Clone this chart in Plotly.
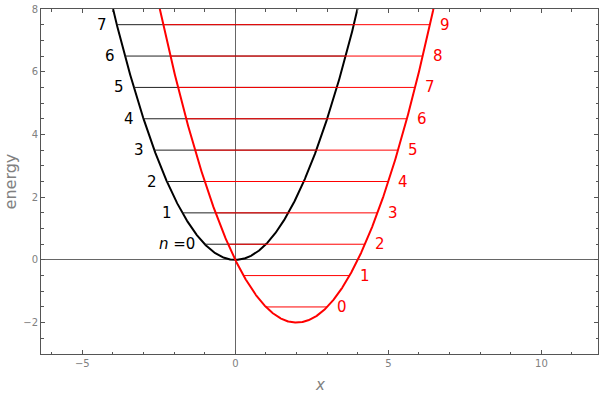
import numpy as np
import plotly.graph_objects as go

# potential parameters (harmonic oscillator, shifted well)
black_x0, black_v0 = 0.0, 0.0
red_x0, red_v0 = 2.0, -2.0

# energy levels
black_levels = [0.5, 1.5, 2.5, 3.5, 4.5, 5.5, 6.5, 7.5]
black_labels = ["<i>n</i> =0", "1", "2", "3", "4", "5", "6", "7"]
red_levels = [-1.5, -0.5, 0.5, 1.5, 2.5, 3.5, 4.5, 5.5, 6.5, 7.5]
red_labels = ["0", "1", "2", "3", "4", "5", "6", "7", "8", "9"]

x_range = [-6.35, 11.85]
y_range = [-3, 8]

xs = np.linspace(x_range[0], x_range[1], 1500)


def V(x, x0, v0):
    return 0.5 * (x - x0) ** 2 + v0


def turning(E, x0, v0):
    d = np.sqrt(2 * (E - v0))
    return x0 - d, x0 + d


def level_segments(levels, x0, v0):
    lx, ly = [], []
    for E in levels:
        a, b = turning(E, x0, v0)
        lx += [a, b, None]
        ly += [E, E, None]
    return lx, ly


fig = go.Figure()

bx, by = level_segments(black_levels, black_x0, black_v0)
rx, ry = level_segments(red_levels, red_x0, red_v0)

fig.add_trace(go.Scatter(x=xs, y=V(xs, black_x0, black_v0), mode="lines",
                         line=dict(color="black", width=2), hoverinfo="skip"))
fig.add_trace(go.Scatter(x=bx, y=by, mode="lines",
                         line=dict(color="#222222", width=1), hoverinfo="skip"))
fig.add_trace(go.Scatter(x=xs, y=V(xs, red_x0, red_v0), mode="lines",
                         line=dict(color="#ff0000", width=2), hoverinfo="skip"))
fig.add_trace(go.Scatter(x=rx, y=ry, mode="lines",
                         line=dict(color="#ff0000", width=1), hoverinfo="skip"))

annotations = []
for E, lab in zip(black_levels, black_labels):
    a, b = turning(E, black_x0, black_v0)
    annotations.append(dict(x=a, y=E, text=lab, showarrow=False, xanchor="right",
                            yanchor="middle", xshift=-8,
                            font=dict(family="DejaVu Sans", size=15, color="black")))
for E, lab in zip(red_levels, red_labels):
    a, b = turning(E, red_x0, red_v0)
    annotations.append(dict(x=b, y=E, text=lab, showarrow=False, xanchor="left",
                            yanchor="middle", xshift=8,
                            font=dict(family="DejaVu Sans", size=15, color="#ff0000")))

# axis titles
annotations.append(dict(xref="paper", yref="paper", x=0.5, y=-0.09, text="<i>x</i>",
                        showarrow=False, xanchor="center", yanchor="middle",
                        font=dict(family="DejaVu Sans", size=15, color="#808080")))
annotations.append(dict(xref="paper", yref="paper", x=-0.054, y=0.5, text="energy",
                        showarrow=False, xanchor="center", yanchor="middle", textangle=-90,
                        font=dict(family="DejaVu Sans", size=16, color="#808080")))

axis_common = dict(
    showgrid=False, automargin=False,
    showline=True, linecolor="#555555", linewidth=1, mirror="ticks",
    ticks="inside", ticklen=4, tickcolor="#555555", tickwidth=1,
    zeroline=True, zerolinecolor="#666666", zerolinewidth=1,
    tickfont=dict(family="DejaVu Sans", size=10, color="#808080"),
)

fig.update_layout(
    width=600, height=400,
    margin=dict(l=41, r=2, t=9, b=46),
    paper_bgcolor="white", plot_bgcolor="white",
    showlegend=False,
    annotations=annotations,
    xaxis=dict(range=x_range, dtick=5, tick0=0,
               minor=dict(ticks="inside", ticklen=2.5, dtick=1, tickcolor="#555555", showgrid=False),
               **axis_common),
    yaxis=dict(range=y_range, dtick=2, tick0=0,
               minor=dict(ticks="inside", ticklen=2.5, dtick=0.5, tickcolor="#555555", showgrid=False),
               **axis_common),
)

fig.write_html("out.html", config={"displayModeBar": False},
               post_script="document.body.style.margin='0';document.body.style.overflow='hidden';")
